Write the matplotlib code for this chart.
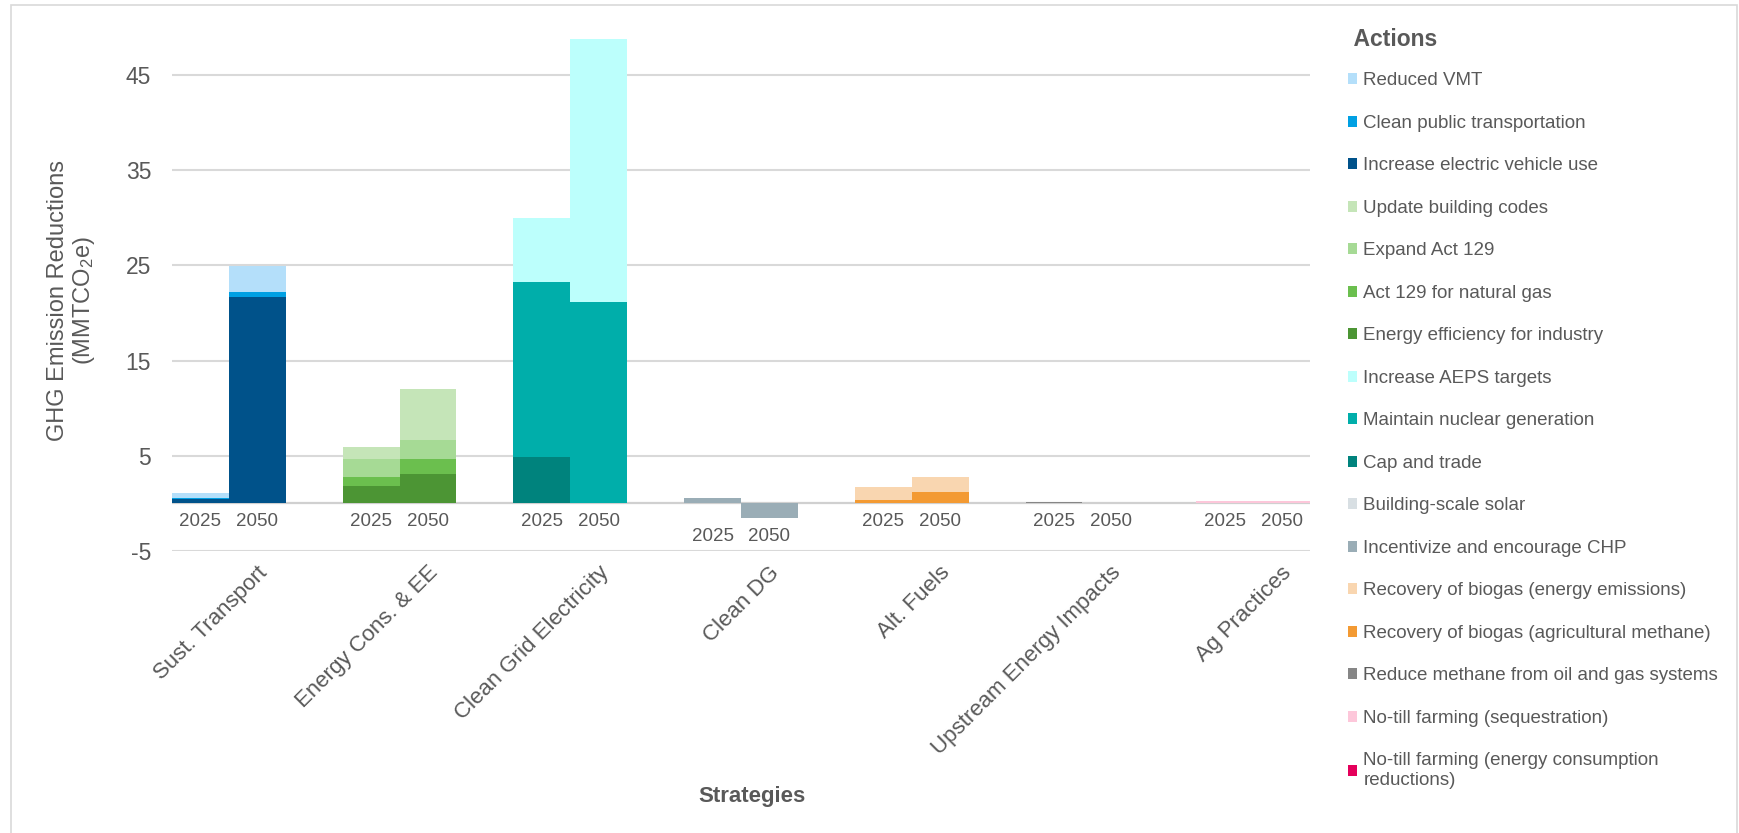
import matplotlib
matplotlib.use("Agg")
import matplotlib.pyplot as plt
from matplotlib.patches import Patch, Rectangle

plt.rcParams['font.family'] = ['Liberation Sans', 'DejaVu Sans']
plt.rcParams['mathtext.fontset'] = 'custom'
plt.rcParams['mathtext.rm'] = 'Liberation Sans'
plt.rcParams['mathtext.it'] = 'Liberation Sans'

# strategies (x groups) and the two scenario years
strategies = ["Sust. Transport", "Energy Cons. & EE", "Clean Grid Electricity",
              "Clean DG", "Alt. Fuels", "Upstream Energy Impacts", "Ag Practices"]
years = ["2025", "2050"]

# actions, in legend order (top of stack first)
actions = ["Reduced VMT", "Clean public transportation", "Increase electric vehicle use",
           "Update building codes", "Expand Act 129", "Act 129 for natural gas",
           "Energy efficiency for industry", "Increase AEPS targets",
           "Maintain nuclear generation", "Cap and trade", "Building-scale solar",
           "Incentivize and encourage CHP", "Recovery of biogas (energy emissions)",
           "Recovery of biogas (agricultural methane)",
           "Reduce methane from oil and gas systems", "No-till farming (sequestration)",
           "No-till farming (energy consumption\nreductions)"]
# which strategy each action belongs to
action_strategy = [0, 0, 0, 1, 1, 1, 1, 2, 2, 2, 3, 3, 4, 4, 5, 6, 6]
# GHG reductions (MMTCO2e)
red_2025 = [0.55, 0.02, 0.5, 1.2, 1.88, 0.94, 1.87, 6.7, 18.4, 4.9, 0.0, 0.56,
            1.36, 0.37, 0.12, 0.2, 0.0]
red_2050 = [2.75, 0.5, 21.7, 5.4, 1.95, 1.6, 3.1, 27.6, 21.2, 0.0, 0.0, -1.58,
            1.65, 1.16, 0.0, 0.3, 0.0]

colors = ["#B4DFFA", "#00A0E3", "#00528A", "#C5E5B8", "#A6DA95", "#6BBF4E",
          "#4C9534", "#BCFFFC", "#00AEAA", "#00837D", "#D8DFE3", "#9AADB6",
          "#F9D6B0", "#F39A33", "#868686", "#FDC7DA", "#E4005B"]

txt = "#595959"

fig = plt.figure(figsize=(17.39, 8.33), dpi=100)
ax = fig.add_axes([172 / 1739, 1 - 551 / 833, 1138 / 1739, 523.6 / 833])

# stacked bars, bottom of stack = last action
pos = {}
neg = {}
for a in range(len(actions) - 1, -1, -1):
    s = action_strategy[a]
    for yi, vals in enumerate([red_2025, red_2050]):
        v = vals[a]
        x = 3 * s + 0.5 + yi
        key = (s, yi)
        if v >= 0:
            b = pos.get(key, 0.0)
            pos[key] = b + v
        else:
            b = neg.get(key, 0.0)
            neg[key] = b + v
        ax.bar(x, v, width=1.0, bottom=b, color=colors[a], linewidth=0, zorder=3)

# year labels under each pair
for s in range(len(strategies)):
    gmin = min(neg.get((s, 0), 0.0), neg.get((s, 1), 0.0), 0.0)
    for yi, yr in enumerate(years):
        ax.text(3 * s + 0.5 + yi, gmin - 1.85, yr, ha='center', va='center',
                fontsize=13.5, color=txt, zorder=4)

ax.set_xlim(0, 20)
ax.set_ylim(-5, 50)
yt = [-5, 5, 15, 25, 35, 45]
ax.set_yticks(yt)
ax.set_yticklabels([str(v) for v in yt], fontsize=16.5, color=txt)
for v in yt:
    ax.axhline(v, color="#D9D9D9", lw=1.5, zorder=1)
ax.axhline(0, color="#D0D0D0", lw=1.6, zorder=2)
ax.tick_params(axis='y', length=0, pad=15)

ax.set_xticks([3 * s + 1.62 for s in range(len(strategies))])
ax.set_xticklabels(strategies, rotation=45, ha='right', va='center',
                   rotation_mode='anchor', fontsize=16, color=txt)
ax.tick_params(axis='x', length=0, pad=13.5)

for sp in ax.spines.values():
    sp.set_visible(False)

ax.set_ylabel("GHG Emission Reductions\n(MMTCO$_2$e)", fontsize=17, color=txt,
              va='center', linespacing=1.1)
ax.yaxis.set_label_coords(-0.088, 0.4775)
ax.set_xlabel("Strategies", fontsize=16, fontweight='bold', color=txt, va='center')
ax.xaxis.set_label_coords(0.5094, -0.468)

handles = [Patch(facecolor=c, edgecolor='none') for c in colors]
leg = fig.legend(handles, actions, loc='upper left',
                 bbox_to_anchor=(1340 / 1739, 1 - 21 / 833), frameon=False,
                 fontsize=13.5, title=" Actions", alignment='left',
                 handlelength=0.5, handleheight=0.5, handletextpad=0.35,
                 labelspacing=1.36, borderaxespad=0)
leg.get_title().set_fontsize(16.5)
leg.get_title().set_fontweight('bold')
leg.get_title().set_color(txt)
leg._legend_box.sep = 15
for t in leg.get_texts():
    t.set_color(txt)

# chart area border
fig.patches.append(Rectangle((11 / 1739, -0.01), 1726 / 1739, 1 - 5 / 833 + 0.01,
                             transform=fig.transFigure, fill=False,
                             edgecolor="#D9D9D9", lw=1.2))

fig.savefig("out.png", dpi=100)
